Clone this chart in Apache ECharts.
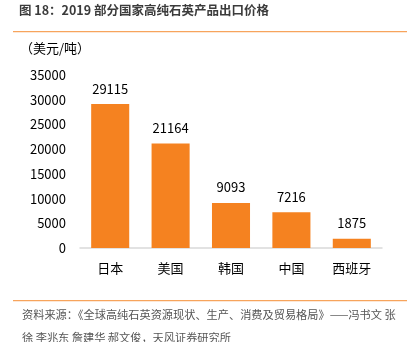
<!DOCTYPE html>
<html><head><meta charset="utf-8">
<script src="https://cdn.jsdelivr.net/npm/echarts@6/dist/echarts.min.js"></script>
<style>html,body{margin:0;padding:0;background:#fff}#c{width:407px;height:342px}</style>
</head><body><div id="c"></div>
<script>
const categories = ['日本','美国','韩国','中国','西班牙'];
const values = [29115, 21164, 9093, 7216, 1875];
const yTicks = [0, 5000, 10000, 15000, 20000, 25000, 30000, 35000];
const titleText = '图 18：2019 部分国家高纯石英产品出口价格';
const unitText = '（美元/吨）';
const note1 = '资料来源：《全球高纯石英资源现状、生产、消费及贸易格局》——冯书文 张';
const note2 = '徐 李兆东 詹建华 郝文俊，天风证券研究所';
const FONT = '"Noto Sans CJK SC", "Noto Sans", sans-serif';
const chart = echarts.init(document.getElementById('c'));
chart.setOption({
  animation: false,
  grid: {left: 80, right: 25, top: 75, bottom: 94},
  xAxis: {type: 'category', data: categories,
    axisLine: {lineStyle: {color: '#d9d9d9', width: 1.5}},
    axisTick: {show: false},
    axisLabel: {color: '#000', fontSize: 13, fontFamily: FONT, margin: 14}},
  yAxis: {type: 'value', min: yTicks[0], max: yTicks[yTicks.length-1], interval: 5000,
    axisLine: {show: false}, axisTick: {show: false}, splitLine: {show: false},
    axisLabel: {color: '#000', fontSize: 13, fontFamily: FONT, margin: 14, formatter: v => String(v)}},
  series: [{type: 'bar', data: values, barWidth: '63%',
    itemStyle: {color: '#F58220'},
    label: {show: true, position: 'top', color: '#000', fontSize: 13, fontFamily: FONT, distance: 9}}],
  graphic: [
    {type: 'text', left: 19, top: 4, style: {text: titleText, fill: '#3b3b3b', font: 'bold 12.5px ' + FONT}},
    {type: 'rect', shape: {x: 13, y: 31, width: 394, height: 1.2}, style: {fill: '#F7A45C'}},
    {type: 'text', left: 20, top: 42, style: {text: unitText, fill: '#000', font: '13px ' + FONT}},
    {type: 'rect', shape: {x: 13, y: 300, width: 394, height: 1.2}, style: {fill: '#F7A45C'}},
    {type: 'text', left: 22, top: 309, style: {text: note1, fill: '#555', font: '11.2px ' + FONT}},
    {type: 'text', left: 22, top: 332, style: {text: note2, fill: '#555', font: '11.2px ' + FONT}}
  ]
});
</script></body></html>
